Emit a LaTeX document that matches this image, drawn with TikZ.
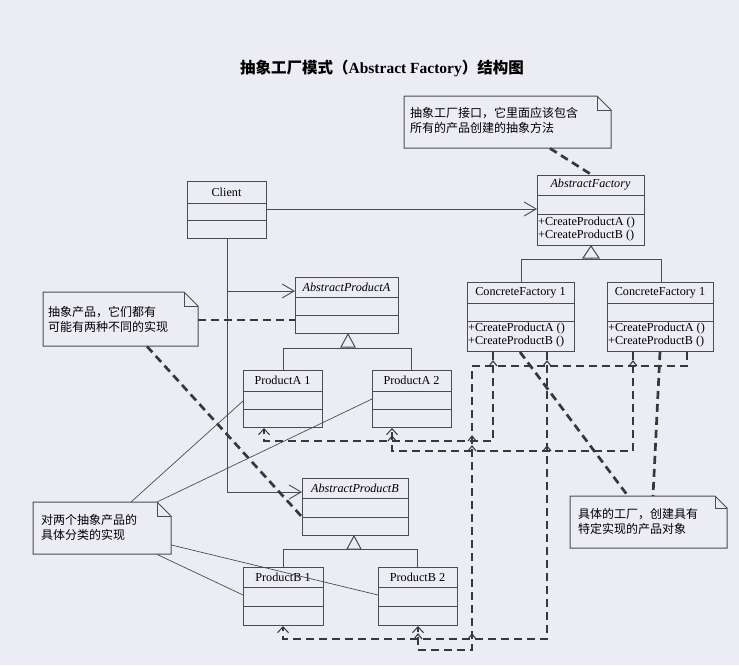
\documentclass[tikz,border=0pt]{standalone}
\usepackage{fontspec}
\setmainfont{Liberation Serif}
\newfontfamily\cjk{Noto Sans CJK SC}
\usetikzlibrary{arrows.meta}
\definecolor{bg}{RGB}{236,236,244}
\definecolor{ink}{RGB}{75,75,82}
\definecolor{dashc}{RGB}{55,55,62}
\tikzset{
  cls/.style={draw=ink, line width=1pt, inner sep=0pt, anchor=north west},
  clsname/.style={font=\fontsize{12.2}{14}\selectfont, inner sep=0pt},
  ops/.style={font=\fontsize{12.2}{14}\selectfont, inner sep=0pt, anchor=west},
  sep/.style={draw=ink, line width=1pt},
  assoc/.style={draw=ink, line width=1pt, -{Straight Barb[length=12pt,width=14pt,line width=0.9pt]}},
  inh/.style={draw=ink, line width=1pt},
  tri/.style={draw=ink, line width=1pt, fill=bg},
  dep/.style={draw=dashc, line width=2.7pt, dash pattern=on 8pt off 5pt},
  deparrow/.style={dep, -{Straight Barb[length=6pt,width=11pt,line width=1pt]}},
  hop/.style={draw=dashc, line width=1.1pt},
  notebox/.style={draw=ink, line width=1pt},
  notetext/.style={font=\cjk\fontsize{12}{15}\selectfont, align=left, inner sep=0pt, anchor=west},
  annot/.style={draw=ink, line width=0.7pt},
}
\newcommand\umlbox[8]{%
  \node[cls, minimum width={#4-#2}, minimum height={#5-#3}] (#1) at (#2,#3) {};
  \draw[sep] (#2,#6) -- (#4,#6);
  \draw[sep] (#2,#7) -- (#4,#7);
  \node[clsname] (#1-name) at ({(#2+#4)/2},{(#3+#6)/2}) {#8};
}
\newcommand\umlnote[6]{%
  \node[minimum width={#4-#2}, minimum height={#5-#3}, inner sep=0pt, anchor=north west] (#1) at (#2,#3) {};
  \draw[notebox] (#2,#3) -- ({#4-#6},#3) -- (#4,{#3+#6}) -- (#4,#5) -- (#2,#5) -- cycle;
  \draw[notebox] ({#4-#6},#3) -- ({#4-#6},{#3+#6}) -- (#4,{#3+#6});
}
\begin{document}
\begin{tikzpicture}[x=1pt,y=-1pt]
\fill[bg] (0,0) rectangle (739,665);
\useasboundingbox (0,0) rectangle (739,665);

% title
\node[font=\fontsize{15.5}{18}\selectfont\bfseries, inner sep=0pt] (title) at (382,68)
  {{\cjk 抽象工厂模式（}Abstract Factory{\cjk ）结构图}};

% classes
\umlbox{client}{187}{181}{266}{238}{203}{220}{Client}
\umlbox{af}{537}{175}{644}{245}{195}{214}{\itshape AbstractFactory}
\umlbox{cfa}{467}{282}{574}{351}{303}{321}{ConcreteFactory 1}
\umlbox{cfb}{607}{282}{713}{351}{303}{321}{ConcreteFactory 1}
\umlbox{apa}{295}{277}{398}{333}{297}{315}{\itshape AbstractProductA}
\umlbox{pa1}{243}{370}{322}{427}{391}{409}{ProductA 1}
\umlbox{pa2}{372}{370}{451}{427}{391}{409}{ProductA 2}
\umlbox{apb}{302}{478}{408}{535}{498}{517}{\itshape AbstractProductB}
\umlbox{pb1}{243}{567}{323}{625}{587}{606}{ProductB 1}
\umlbox{pb2}{378}{567}{457}{625}{587}{606}{ProductB 2}

\node[ops] (af-a) at (538,223) {+CreateProductA ()};
\node[ops] (af-b) at (538,236) {+CreateProductB ()};
\node[ops] (cfa-a) at (468,329) {+CreateProductA ()};
\node[ops] (cfa-b) at (468,342) {+CreateProductB ()};
\node[ops] (cfb-a) at (608,329) {+CreateProductA ()};
\node[ops] (cfb-b) at (608,342) {+CreateProductB ()};

% generalisations
\draw[inh] (521,0 |- cfa.north) -- (521,259) -- (661,259) -- (661,0 |- cfb.north);
\draw[inh] (591,257) -- (591,259);
\draw[tri] (591,0 |- af.south) -- ++(-8,12) -- ++(16,0) -- cycle;

\draw[inh] (283,0 |- pa1.north) -- (283,348) -- (411,348) -- (411,0 |- pa2.north);
\draw[inh] (348,346) -- (348,348);
\draw[tri] (348,0 |- apa.south) -- ++(-7,13) -- ++(14,0) -- cycle;

\draw[inh] (283,0 |- pb1.north) -- (283,549) -- (417,549) -- (417,0 |- pb2.north);
\draw[inh] (354,548) -- (354,549);
\draw[tri] (354,0 |- apb.south) -- ++(-7,13) -- ++(14,0) -- cycle;

% associations
\draw[assoc] (client.east |- 0,209) -- (af.west |- 0,209);
\draw[assoc] (227,0 |- client.south) |- (apb.west |- 0,492);
\draw[assoc] (227,291) -- (apa.west |- 0,291);

% notes
\umlnote{n1}{404}{96}{611}{148}{14}
\umlnote{n2}{43}{292}{198}{346}{14}
\umlnote{n3}{33}{502}{171}{554}{14}
\umlnote{n4}{570}{496}{727}{548}{12}
\node[notetext] (n1t) at (410,120.5) {抽象工厂接口，它里面应该包含\\所有的产品创建的抽象方法};
\node[notetext] (n2t) at (48,319.5) {抽象产品，它们都有\\可能有两种不同的实现};
\node[notetext] (n3t) at (41,527.5) {对两个抽象产品的\\具体分类的实现};
\node[notetext] (n4t) at (578,521) {具体的工厂，创建具有\\特定实现的产品对象};

% note links
\draw[dep] (550,0 |- n1.south) -- (592,0 |- af.north);
\draw[dep] (n2.east |- 0,320) -- (apa.west |- 0,320);
\draw[dep] (147,0 |- n2.south) -- (apb.west |- 0,517);
\draw[dep] (520,0 |- cfa.south) -- (628,0 |- n4.north);
\draw[dep] (660,0 |- cfb.south) -- (653,0 |- n4.north);

\draw[annot] (131,0 |- n3.north) -- (pa1.west |- 0,401);
\draw[annot] (157,0 |- n3.north) -- (pa2.west |- 0,399);
\draw[annot] (n3.east |- 0,545) -- (pb2.west |- 0,595);
\draw[annot] (157,0 |- n3.south) -- (pb1.west |- 0,595);

% dependencies
\draw[deparrow] (493,0 |- cfa.south) -- (493,441) -- (264,441) -- (264,0 |- pa1.south);
\draw[deparrow] (633,0 |- cfb.south) -- (633,451) -- (392,451) -- (392,0 |- pa2.south);
\draw[deparrow] (547,0 |- cfa.south) -- (547,639) -- (283,639) -- (283,0 |- pb1.south);
\draw[deparrow] (687,0 |- cfb.south) -- (687,366) -- (472,366) -- (472,650) -- (418,650) -- (418,0 |- pb2.south);

% line hops
\foreach \hx/\hy in {493/366,547/366,633/366,392/441,472/441,472/451,547/451,418/639,472/639}
  \draw[hop] (\hx-4,\hy) -- (\hx,\hy-5) -- (\hx+4,\hy);
\end{tikzpicture}
\end{document}
